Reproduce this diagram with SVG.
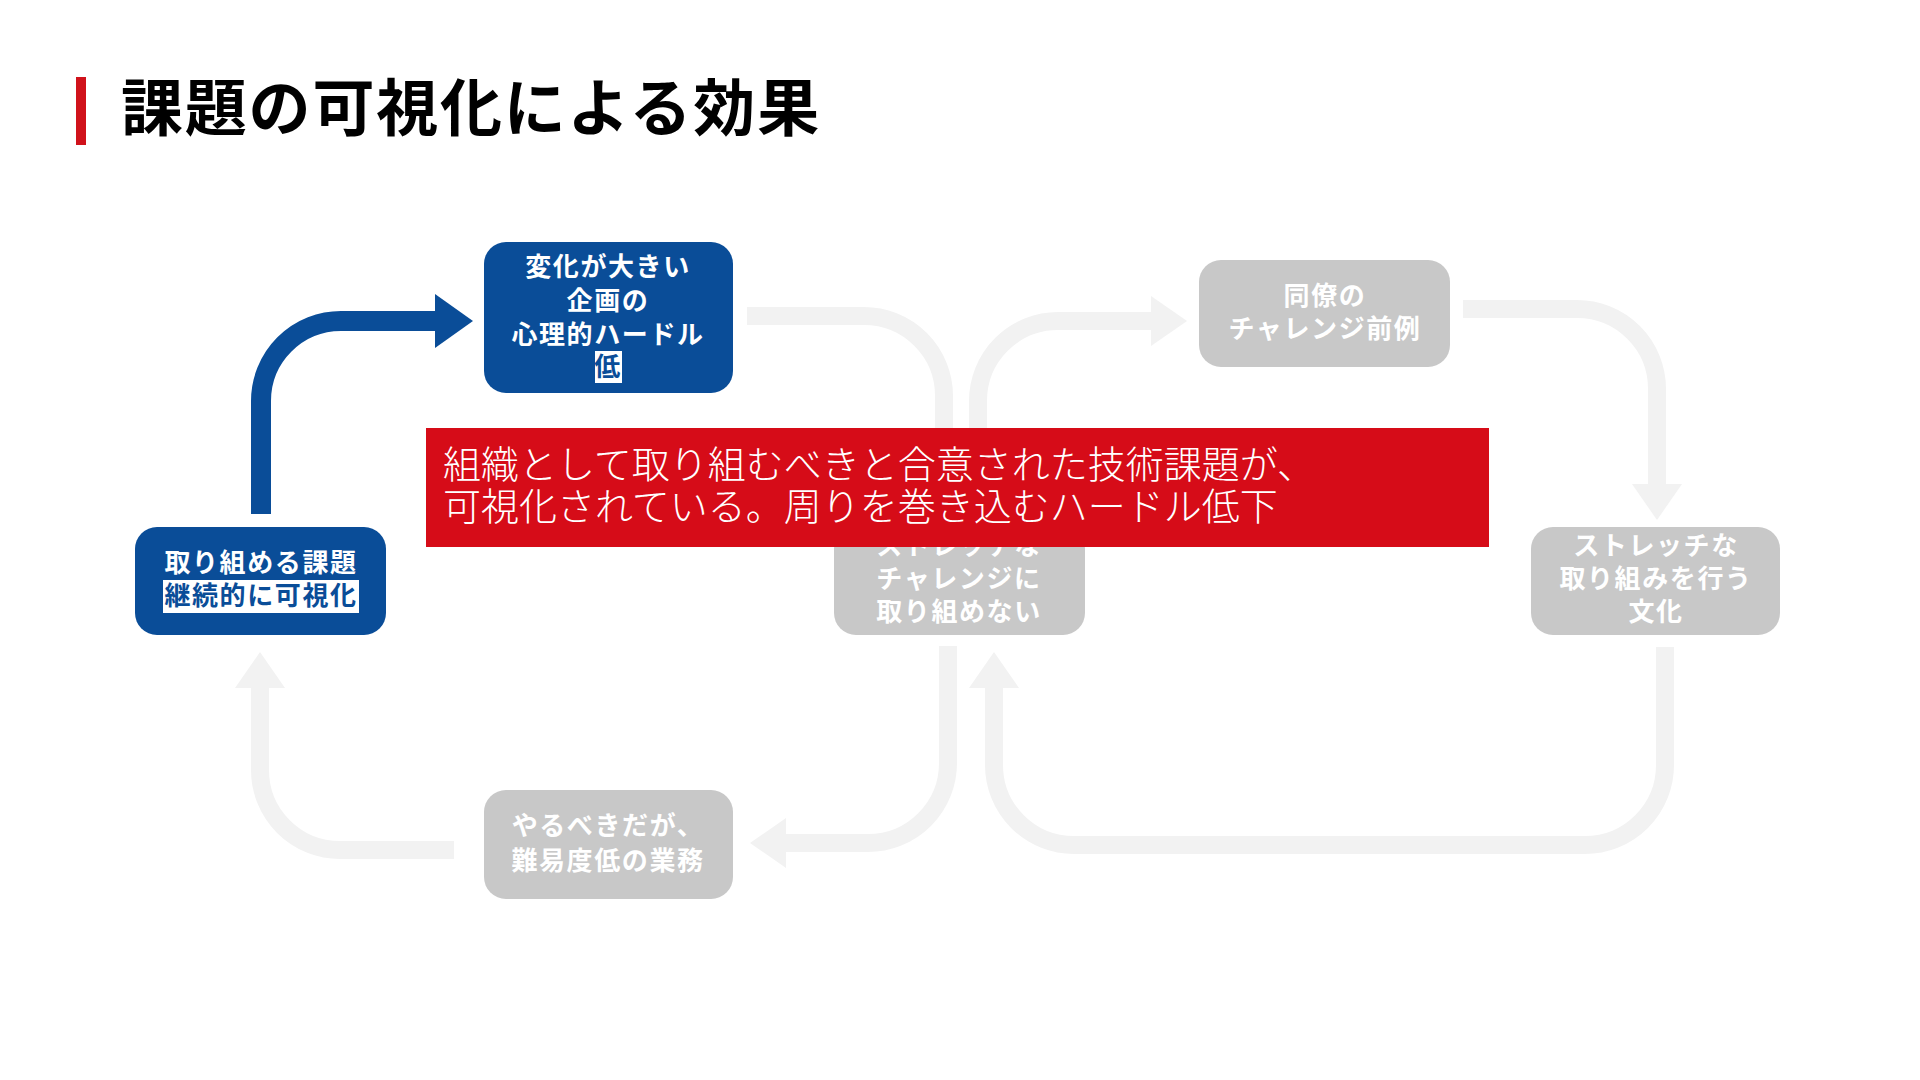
<svg xmlns="http://www.w3.org/2000/svg" width="1920" height="1080" viewBox="0 0 1920 1080">
<style>
.title{font-family:"Noto Sans CJK JP","Noto Sans",sans-serif;font-weight:700;font-size:62px;fill:#000;letter-spacing:1.8px}
.nb{fill:#0a4d98}
.ng{fill:#c8c8c8}
.nt{font-family:"Noto Sans CJK JP","Noto Sans",sans-serif;font-weight:700;font-size:26px;fill:#fff;text-anchor:middle;letter-spacing:1.6px}
.hl{fill:#0a4d98}
.cb{fill:none;stroke:#0a4d98;stroke-width:20}
.cg{fill:none;stroke:#f2f2f2;stroke-width:18}
.ct{font-family:"Noto Sans CJK JP","Noto Sans",sans-serif;font-weight:300;font-size:38px;fill:#fff;letter-spacing:0px}
</style>
<defs>
<marker id="hb" markerUnits="userSpaceOnUse" markerWidth="38" markerHeight="54" refX="0" refY="27" orient="auto"><path d="M0,0 L38,27 L0,54 z" fill="#0a4d98"/></marker>
<marker id="hg" markerUnits="userSpaceOnUse" markerWidth="36" markerHeight="50" refX="0" refY="25" orient="auto"><path d="M0,0 L36,25 L0,50 z" fill="#f2f2f2"/></marker>
</defs>
<rect width="1920" height="1080" fill="#fff"/>
<rect x="76" y="77" width="10" height="68" fill="#d0121b"/>
<text class="title" x="121" y="131">課題の可視化による効果</text>
<g id="connectors">
<path class="cg" d="M747,316 H864 A80,80 0 0 1 944,396 V483" marker-end="url(#hg)"/>
<path class="cg" d="M978,520 V401 A80,80 0 0 1 1058,321 H1151" marker-end="url(#hg)"/>
<path class="cg" d="M1463,309 H1577 A80,80 0 0 1 1657,389 V484" marker-end="url(#hg)"/>
<path class="cg" d="M1665,647 V765 A80,80 0 0 1 1585,845 H1074 A80,80 0 0 1 994,765 V688" marker-end="url(#hg)"/>
<path class="cg" d="M948,646 V763 A80,80 0 0 1 868,843 H786" marker-end="url(#hg)"/>
<path class="cg" d="M454,850 H340 A80,80 0 0 1 260,770 V688" marker-end="url(#hg)"/>
<path class="cb" d="M261,514 V401 A80,80 0 0 1 341,321 H435" marker-end="url(#hb)"/>
</g>
<g id="node-change">
<rect class="nb" x="484" y="242" width="249" height="151" rx="22"/>
<text class="nt" x="608" y="276">変化が大きい</text>
<text class="nt" x="608" y="310">企画の</text>
<text class="nt" x="608" y="344">心理的ハードル</text>
<rect x="595" y="351" width="27" height="32" fill="#fff"/>
<text class="nt hl" x="608" y="376">低</text>
</g>
<g id="node-visible">
<rect class="nb" x="135" y="527" width="251" height="108" rx="22"/>
<text class="nt" x="261" y="572">取り組める課題</text>
<rect x="163" y="580" width="196" height="33" fill="#fff"/>
<text class="nt hl" x="261" y="605">継続的に可視化</text>
</g>
<g id="node-peer">
<rect class="ng" x="1199" y="260" width="251" height="107" rx="22"/>
<text class="nt" x="1325" y="305">同僚の</text>
<text class="nt" x="1325" y="338">チャレンジ前例</text>
</g>
<g id="node-nostretch">
<rect class="ng" x="834" y="527" width="251" height="108" rx="22"/>
<text class="nt" x="959" y="555">ストレッチな</text>
<text class="nt" x="959" y="588">チャレンジに</text>
<text class="nt" x="959" y="621">取り組めない</text>
</g>
<g id="node-culture">
<rect class="ng" x="1531" y="527" width="249" height="108" rx="22"/>
<text class="nt" x="1656" y="555">ストレッチな</text>
<text class="nt" x="1656" y="588">取り組みを行う</text>
<text class="nt" x="1656" y="621">文化</text>
</g>
<g id="node-easy">
<rect class="ng" x="484" y="790" width="249" height="109" rx="22"/>
<text class="nt" x="608" y="835">やるべきだが、</text>
<text class="nt" x="608" y="870">難易度低の業務</text>
</g>
<g id="callout">
<rect x="426" y="428" width="1063" height="119" fill="#d60c18"/>
<text class="ct" x="443" y="478">組織として取り組むべきと合意された技術課題が、</text>
<text class="ct" x="443" y="520">可視化されている。周りを巻き込むハードル低下</text>
</g>
</svg>
